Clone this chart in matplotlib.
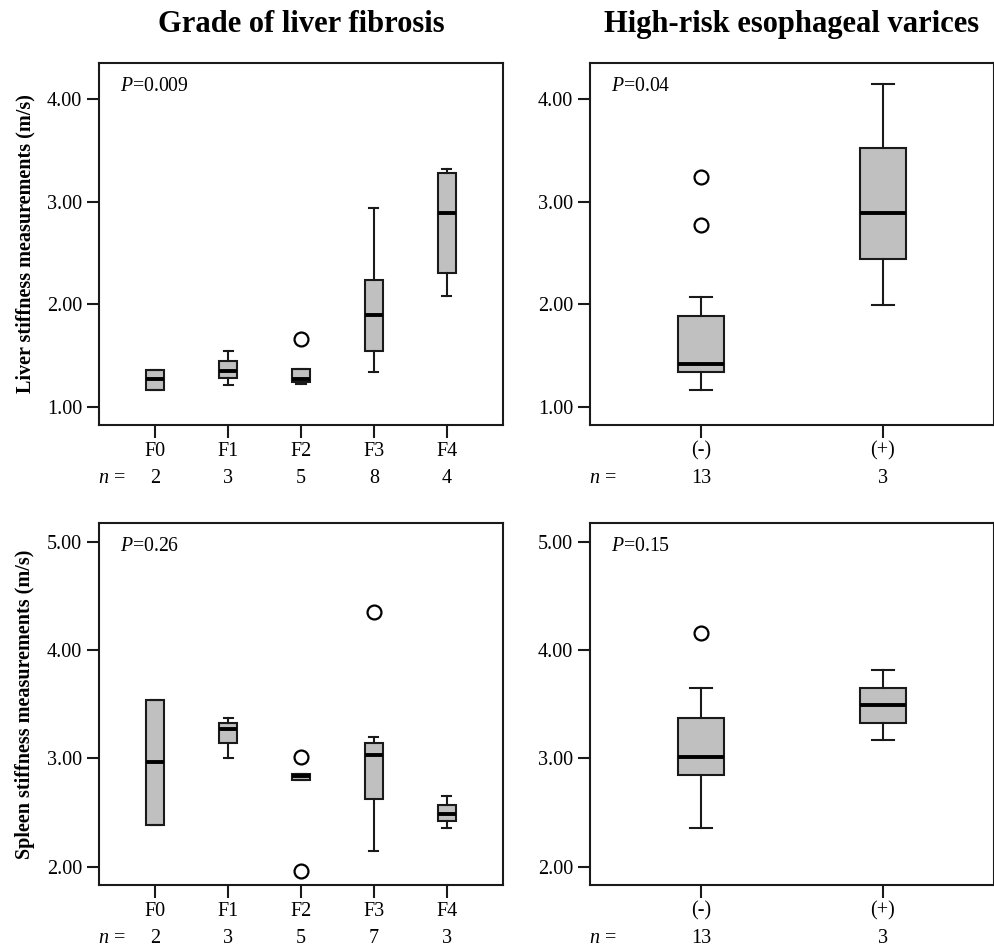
"""Liver / spleen stiffness box plots by fibrosis grade and by
high-risk esophageal varices (2x2 panel figure).

Output: out.png
"""

import matplotlib
matplotlib.use("Agg")
import matplotlib.pyplot as plt
import matplotlib.transforms as mtransforms

plt.rcParams["font.family"] = ["Liberation Serif", "DejaVu Serif"]
plt.rcParams["mathtext.fontset"] = "custom"
plt.rcParams["mathtext.rm"] = "Liberation Serif"
plt.rcParams["mathtext.it"] = "Liberation Serif:italic"

# ---------------------------------------------------------------------------
# Data
# ---------------------------------------------------------------------------

FIB_GROUPS = ["F0", "F1", "F2", "F3", "F4"]
VAR_GROUPS = ["(-)", "(+)"]

# Liver stiffness by fibrosis grade
LIVER_FIB_N      = [2, 3, 5, 8, 4]
LIVER_FIB_WHISLO = [1.17, 1.21, 1.22, 1.34, 2.08]
LIVER_FIB_Q1     = [1.17, 1.28, 1.24, 1.55, 2.31]
LIVER_FIB_MED    = [1.27, 1.35, 1.27, 1.90, 2.89]
LIVER_FIB_Q3     = [1.36, 1.45, 1.37, 2.24, 3.28]
LIVER_FIB_WHISHI = [1.36, 1.55, 1.37, 2.935, 3.32]
LIVER_FIB_FLIERS = [[], [], [1.66], [], []]

# Liver stiffness by varices
LIVER_VAR_N      = [13, 3]
LIVER_VAR_WHISLO = [1.17, 1.99]
LIVER_VAR_Q1     = [1.34, 2.44]
LIVER_VAR_MED    = [1.42, 2.89]
LIVER_VAR_Q3     = [1.89, 3.52]
LIVER_VAR_WHISHI = [2.075, 4.15]
LIVER_VAR_FLIERS = [[3.24, 2.77], []]

# Spleen stiffness by fibrosis grade
SPLEEN_FIB_N      = [2, 3, 5, 7, 3]
SPLEEN_FIB_WHISLO = [2.39, 3.00, 2.80, 2.15, 2.36]
SPLEEN_FIB_Q1     = [2.39, 3.14, 2.80, 2.63, 2.42]
SPLEEN_FIB_MED    = [2.97, 3.275, 2.84, 3.03, 2.485]
SPLEEN_FIB_Q3     = [3.54, 3.325, 2.855, 3.14, 2.57]
SPLEEN_FIB_WHISHI = [3.54, 3.37, 2.855, 3.20, 2.655]
SPLEEN_FIB_FLIERS = [[], [], [3.01, 1.96], [4.35], []]

# Spleen stiffness by varices
SPLEEN_VAR_N      = [13, 3]
SPLEEN_VAR_WHISLO = [2.36, 3.17]
SPLEEN_VAR_Q1     = [2.85, 3.33]
SPLEEN_VAR_MED    = [3.01, 3.49]
SPLEEN_VAR_Q3     = [3.37, 3.65]
SPLEEN_VAR_WHISHI = [3.65, 3.82]
SPLEEN_VAR_FLIERS = [[4.16], []]

P_LIVER_FIB  = "0.009"
P_LIVER_VAR  = "0.04"
P_SPLEEN_FIB = "0.26"
P_SPLEEN_VAR = "0.15"

LIVER_TICKS  = [1.0, 2.0, 3.0, 4.0]
SPLEEN_TICKS = [2.0, 3.0, 4.0, 5.0]

# ---------------------------------------------------------------------------
# Style
# ---------------------------------------------------------------------------

BOX_FILL = "#C0C0C0"
INK      = "#1A1A1A"
LW       = 1.5
TICK_FS  = 14.5
P_FS     = 14.2


def make_stats(lo, q1, med, q3, hi, fliers):
    return [dict(whislo=a, q1=b, med=c, q3=d, whishi=e, fliers=f)
            for a, b, c, d, e, f in zip(lo, q1, med, q3, hi, fliers)]


def draw_panel(ax, stats, groups, counts, ticks, ylim, p_text, margin):
    pos = list(range(1, len(groups) + 1))
    ax.bxp(
        stats, positions=pos, widths=0.25, capwidths=0.125,
        patch_artist=True, showfliers=True,
        boxprops=dict(facecolor=BOX_FILL, edgecolor=INK, linewidth=LW),
        medianprops=dict(color="black", linewidth=2.8),
        whiskerprops=dict(color=INK, linewidth=LW),
        capprops=dict(color=INK, linewidth=LW),
        flierprops=dict(marker="o", markerfacecolor="white",
                        markeredgecolor="black", markersize=10,
                        markeredgewidth=1.6),
    )
    ax.set_xlim(1 - margin, len(groups) + margin)
    ax.set_ylim(*ylim)
    ax.set_xticks(pos)
    ax.set_xticklabels(groups, fontsize=TICK_FS)
    ax.set_yticks(ticks)
    ax.set_yticklabels([f"{t:.2f}" for t in ticks], fontsize=TICK_FS)
    ax.tick_params(direction="out", length=9, width=LW, color=INK, pad=3)
    for spine in ax.spines.values():
        spine.set_linewidth(LW)
        spine.set_edgecolor(INK)

    ax.text(0.052, 0.934, rf"$\mathit{{P}}$={p_text}", transform=ax.transAxes,
            ha="left", va="center", fontsize=P_FS)

    trans = mtransforms.blended_transform_factory(ax.transData, ax.transAxes)
    ax.text(-0.003, -0.160, r"$\mathit{n}$ =", transform=ax.transAxes,
            ha="left", va="baseline", fontsize=TICK_FS)
    for p, n in zip(pos, counts):
        ax.text(p, -0.160, str(n), transform=trans,
                ha="center", va="baseline", fontsize=TICK_FS)


# ---------------------------------------------------------------------------
# Figure
# ---------------------------------------------------------------------------

W, H = 995, 946
fig = plt.figure(figsize=(W / 100, H / 100), dpi=100)
fig.patch.set_facecolor("white")


def axes_px(left, right, top, bottom):
    return fig.add_axes([left / W, 1 - bottom / H, (right - left) / W, (bottom - top) / H])


ax_lf = axes_px(99, 503, 63, 425)
ax_lv = axes_px(590, 994, 63, 425)
ax_sf = axes_px(99, 503, 523, 885)
ax_sv = axes_px(590, 994, 523, 885)

draw_panel(ax_lf,
           make_stats(LIVER_FIB_WHISLO, LIVER_FIB_Q1, LIVER_FIB_MED,
                      LIVER_FIB_Q3, LIVER_FIB_WHISHI, LIVER_FIB_FLIERS),
           FIB_GROUPS, LIVER_FIB_N, LIVER_TICKS, (0.825, 4.351), P_LIVER_FIB, 0.77)
draw_panel(ax_lv,
           make_stats(LIVER_VAR_WHISLO, LIVER_VAR_Q1, LIVER_VAR_MED,
                      LIVER_VAR_Q3, LIVER_VAR_WHISHI, LIVER_VAR_FLIERS),
           VAR_GROUPS, LIVER_VAR_N, LIVER_TICKS, (0.825, 4.351), P_LIVER_VAR, 0.61)
draw_panel(ax_sf,
           make_stats(SPLEEN_FIB_WHISLO, SPLEEN_FIB_Q1, SPLEEN_FIB_MED,
                      SPLEEN_FIB_Q3, SPLEEN_FIB_WHISHI, SPLEEN_FIB_FLIERS),
           FIB_GROUPS, SPLEEN_FIB_N, SPLEEN_TICKS, (1.833, 5.172), P_SPLEEN_FIB, 0.77)
draw_panel(ax_sv,
           make_stats(SPLEEN_VAR_WHISLO, SPLEEN_VAR_Q1, SPLEEN_VAR_MED,
                      SPLEEN_VAR_Q3, SPLEEN_VAR_WHISHI, SPLEEN_VAR_FLIERS),
           VAR_GROUPS, SPLEEN_VAR_N, SPLEEN_TICKS, (1.833, 5.172), P_SPLEEN_VAR, 0.61)

# Row labels
for ax, label in ((ax_lf, "Liver stiffness measurements (m/s)"),
                  (ax_sf, "Spleen stiffness measurements (m/s)")):
    ax.text(-0.183, 0.5, label, transform=ax.transAxes, rotation=90,
            ha="center", va="center", fontsize=14.5, fontweight="bold")

# Column titles
fig.text(301 / W, 1 - 32 / H, "Grade of liver fibrosis",
         ha="center", va="baseline", fontsize=22, fontweight="bold")
fig.text(792 / W, 1 - 32 / H, "High-risk esophageal varices",
         ha="center", va="baseline", fontsize=22, fontweight="bold")

fig.savefig("out.png", dpi=100, facecolor=fig.get_facecolor())
plt.close(fig)
